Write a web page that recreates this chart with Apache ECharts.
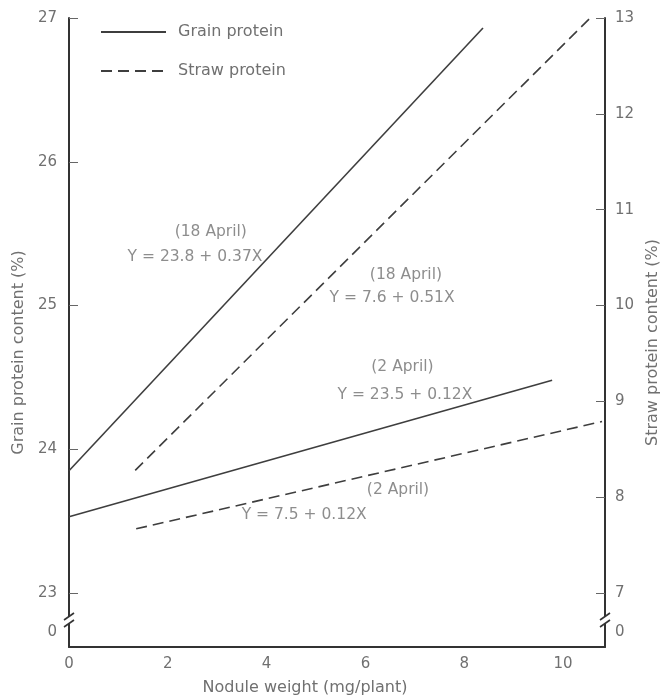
<!DOCTYPE html>
<html>
<head>
<meta charset="utf-8">
<script src="https://cdn.jsdelivr.net/npm/echarts@6.0.0/dist/echarts.min.js"></script>
<style>html,body{margin:0;padding:0;background:#fff}#c{width:660px;height:695px}</style>
</head>
<body>
<div id="c"></div>
<script>
// ---- data ----
const xTicks = [0, 2, 4, 6, 8, 10];
const grainTicks = [0, 23, 24, 25, 26, 27];
const grainTickMarks = [23, 24, 25, 26, 27];
const strawTicks = [0, 7, 8, 9, 10, 11, 12, 13];
const strawTickMarks = [7, 8, 9, 10, 11, 12, 13];

const grain18 = [[0, 23.85], [8.38, 26.93]];
const grain2 = [[0, 23.53], [9.78, 24.48]];
const straw18 = [[1.34, 8.28], [10.55, 13.0]];
const straw2 = [[1.36, 7.67], [10.79, 8.79]];

// axis breaks (value ranges collapsed on each y axis)
const grainBreak = { start: 0.056, end: 22.833 };
const strawBreak = { start: 0.083, end: 6.75 };

// annotation texts placed at (nodule weight, grain protein) coordinates
const annotations = [
  [2.87, 25.51, '(18 April)'],
  [2.55, 25.34, 'Y = 23.8 + 0.37X'],
  [6.82, 25.21, '(18 April)'],
  [6.54, 25.05, 'Y = 7.6 + 0.51X'],
  [6.75, 24.57, '(2 April)'],
  [6.80, 24.38, 'Y = 23.5 + 0.12X'],
  [6.66, 23.72, '(2 April)'],
  [4.76, 23.54, 'Y = 7.5 + 0.12X']
];

const FONT = 'DejaVu Sans';
const TXT = '#707070';
const LINE = '#3e3e3e';
const AX = '#333';

const chart = echarts.init(document.getElementById('c'));
chart.setOption({
  animation: false,
  backgroundColor: '#fff',
  grid: { left: 69, right: 55, top: 18, bottom: 48, containLabel: false, outerBoundsMode: 'none' },
  legend: {
    orient: 'vertical', left: 100, top: 24, padding: 0, itemWidth: 65, itemHeight: 14, itemGap: 23,
    data: ['Grain protein', 'Straw protein'],
    itemStyle: { opacity: 0 },
    textStyle: { fontFamily: FONT, fontSize: 16, color: TXT, padding: [0, 0, 0, 7] }
  },
  xAxis: {
    type: 'value', min: 0, max: 10.85,
    name: 'Nodule weight (mg/plant)', nameLocation: 'middle', nameGap: 33,
    nameTextStyle: { fontFamily: FONT, fontSize: 16, color: TXT, padding: [0, 64, 0, 0] },
    axisLine: { onZero: false, lineStyle: { color: AX, width: 2 } },
    axisTick: { show: false },
    splitLine: { show: false },
    axisLabel: { customValues: xTicks, fontFamily: FONT, fontSize: 15, color: TXT, margin: 10 }
  },
  yAxis: [
    {
      type: 'value', position: 'left', min: -0.104, max: 27,
      breaks: [{ start: grainBreak.start, end: grainBreak.end, gap: '1.11%' }],
      breakArea: { show: false },
      name: 'Grain protein content (%)', nameLocation: 'middle', nameGap: 41, nameRotate: 90,
      nameTextStyle: { fontFamily: FONT, fontSize: 16, color: TXT, padding: [0, 40, 0, 0] },
      axisLine: { show: true, onZero: false, lineStyle: { color: AX, width: 2 } },
      axisTick: { show: true, inside: true, length: 9, customValues: grainTickMarks, lineStyle: { color: '#666' } },
      splitLine: { show: false },
      axisLabel: { customValues: grainTicks, fontFamily: FONT, fontSize: 15, color: TXT, margin: 12 }
    },
    {
      type: 'value', position: 'right', min: -0.157, max: 13,
      breaks: [{ start: strawBreak.start, end: strawBreak.end, gap: '1.11%' }],
      breakArea: { show: false },
      name: 'Straw protein content (%)', nameLocation: 'middle', nameGap: 34, nameRotate: 90,
      nameTextStyle: { fontFamily: FONT, fontSize: 16, color: TXT, padding: [0, 20, 0, 0] },
      axisLine: { show: true, onZero: false, lineStyle: { color: AX, width: 2 } },
      axisTick: { show: true, inside: true, length: 9, customValues: strawTickMarks, lineStyle: { color: '#666' } },
      splitLine: { show: false },
      axisLabel: { customValues: strawTicks, fontFamily: FONT, fontSize: 15, color: TXT, margin: 10 }
    }
  ],
  series: [
    { name: 'Grain protein', type: 'line', yAxisIndex: 0, data: grain18, symbol: 'none', lineStyle: { color: LINE, width: 1.6, type: 'solid' }, itemStyle: { color: LINE } },
    { name: 'Grain protein', type: 'line', yAxisIndex: 0, data: grain2, symbol: 'none', lineStyle: { color: LINE, width: 1.6, type: 'solid' }, itemStyle: { color: LINE } },
    { name: 'Straw protein', type: 'line', yAxisIndex: 1, data: straw18, symbol: 'none', lineStyle: { color: LINE, width: 1.6, type: [11, 6] }, itemStyle: { color: LINE } },
    { name: 'Straw protein', type: 'line', yAxisIndex: 1, data: straw2, symbol: 'none', lineStyle: { color: LINE, width: 1.6, type: [11, 6] }, itemStyle: { color: LINE } },
    {
      name: 'notes', type: 'scatter', yAxisIndex: 0, silent: true, symbolSize: 0,
      data: annotations.map(a => ({ value: [a[0], a[1]], name: a[2] })),
      label: { show: true, position: 'inside', formatter: p => p.name, fontFamily: FONT, fontSize: 15.5, color: TXT }
    }
  ]
});

// break marks on the two y axis lines, positioned through the axes' own scales
function breakMark(x, yA, yB) {
  const yc = (yA + yB) / 2;
  const h = Math.max(Math.abs(yA - yB), 6);
  return [
    { type: 'rect', shape: { x: x - 4, y: yc - h / 2, width: 8, height: h }, style: { fill: '#fff' }, z: 100, silent: true },
    { type: 'line', shape: { x1: x - 5, y1: yc - h / 2 + 3, x2: x + 5, y2: yc - h / 2 - 4 }, style: { stroke: AX, lineWidth: 1.6 }, z: 101, silent: true },
    { type: 'line', shape: { x1: x - 5, y1: yc + h / 2 + 3, x2: x + 5, y2: yc + h / 2 - 4 }, style: { stroke: AX, lineWidth: 1.6 }, z: 101, silent: true }
  ];
}
const xl = chart.convertToPixel({ xAxisIndex: 0 }, 0);
const xr = chart.convertToPixel({ xAxisIndex: 0 }, 10.85);
const gA = chart.convertToPixel({ yAxisIndex: 0 }, grainBreak.start);
const gB = chart.convertToPixel({ yAxisIndex: 0 }, grainBreak.end);
const sA = chart.convertToPixel({ yAxisIndex: 1 }, strawBreak.start);
const sB = chart.convertToPixel({ yAxisIndex: 1 }, strawBreak.end);
chart.setOption({ graphic: breakMark(xl, gA, gB).concat(breakMark(xr, sA, sB)) });
</script>
</body>
</html>
